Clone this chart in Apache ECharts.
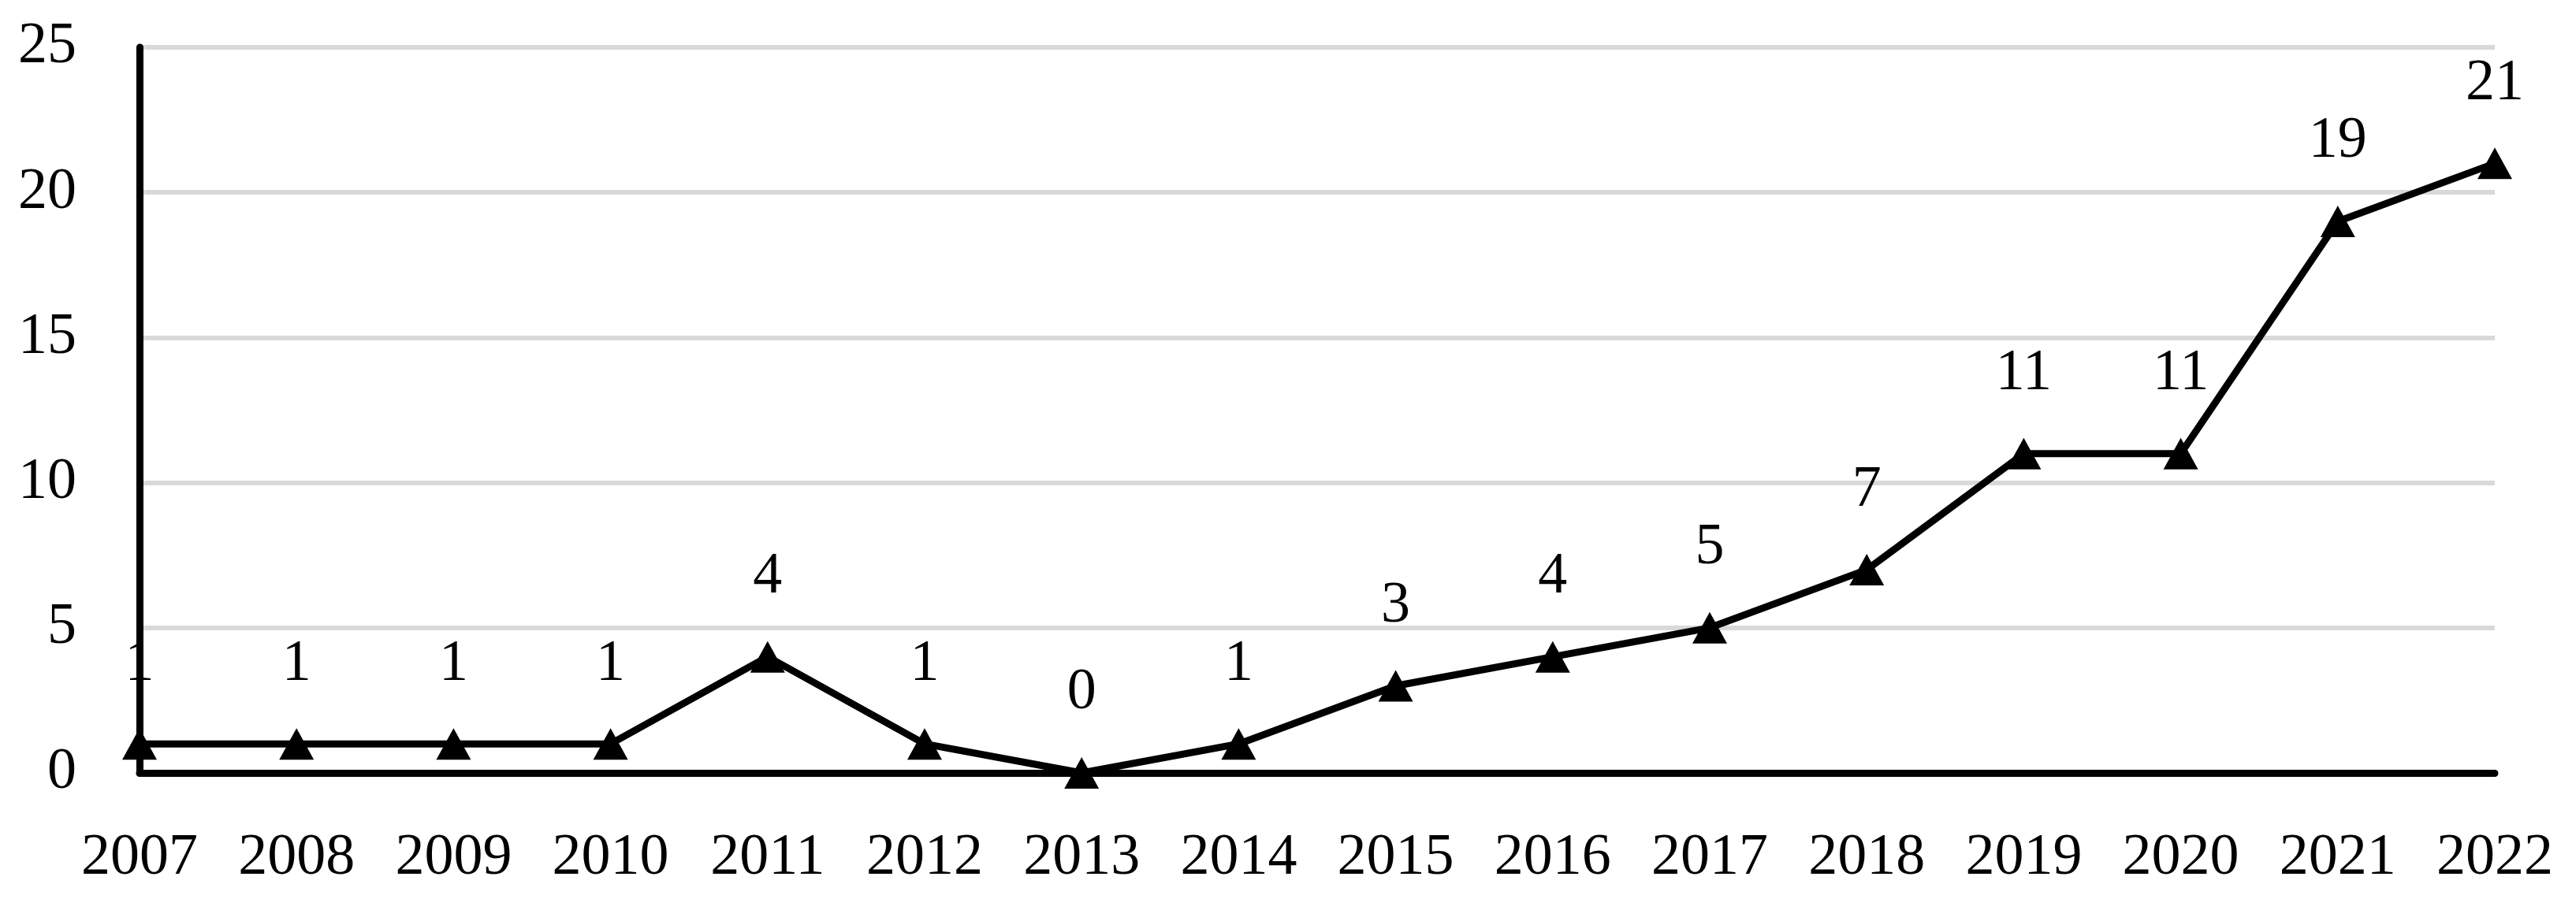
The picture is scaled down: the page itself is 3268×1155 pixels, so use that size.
<!DOCTYPE html>
<html>
<head>
<meta charset="utf-8">
<script src="https://cdn.jsdelivr.net/npm/echarts@6/dist/echarts.min.js"></script>
<style>
html,body{margin:0;padding:0;background:#fff;}
#chart{width:3268px;height:1155px;}
</style>
</head>
<body>
<div id="chart"></div>
<script>
const years = ['2007','2008','2009','2010','2011','2012','2013','2014','2015','2016','2017','2018','2019','2020','2021','2022'];
const counts = [1,1,1,1,4,1,0,1,3,4,5,7,11,11,19,21];
const yTicks = {min: 0, max: 25, interval: 5};

const FONT = '"Liberation Serif", "DejaVu Serif", serif';
const chart = echarts.init(document.getElementById('chart'), null, {renderer: 'canvas'});
chart.setOption({
  animation: false,
  backgroundColor: '#fff',
  grid: {left: 177, right: 103, top: 60, bottom: 174, containLabel: false},
  xAxis: {
    type: 'category',
    data: years,
    boundaryGap: false,
    axisLine: {show: true, lineStyle: {color: '#000', width: 9}},
    axisTick: {show: false},
    axisLabel: {color: '#000', fontFamily: FONT, fontSize: 74, margin: 72},
    splitLine: {show: false}
  },
  yAxis: {
    type: 'value',
    min: yTicks.min, max: yTicks.max, interval: yTicks.interval,
    axisLine: {show: true, lineStyle: {color: '#000', width: 9}},
    axisTick: {show: false},
    axisLabel: {color: '#000', fontFamily: FONT, fontSize: 74, margin: 80},
    splitLine: {show: true, lineStyle: {color: '#d9d9d9', width: 6}}
  },
  series: [{
    type: 'line',
    data: counts,
    symbol: 'triangle',
    symbolSize: [44, 40],
    lineStyle: {color: '#000', width: 9},
    itemStyle: {color: '#000'},
    label: {show: true, position: 'top', distance: 44, color: '#000', fontFamily: FONT, fontSize: 74}
  }]
});
</script>
</body>
</html>
